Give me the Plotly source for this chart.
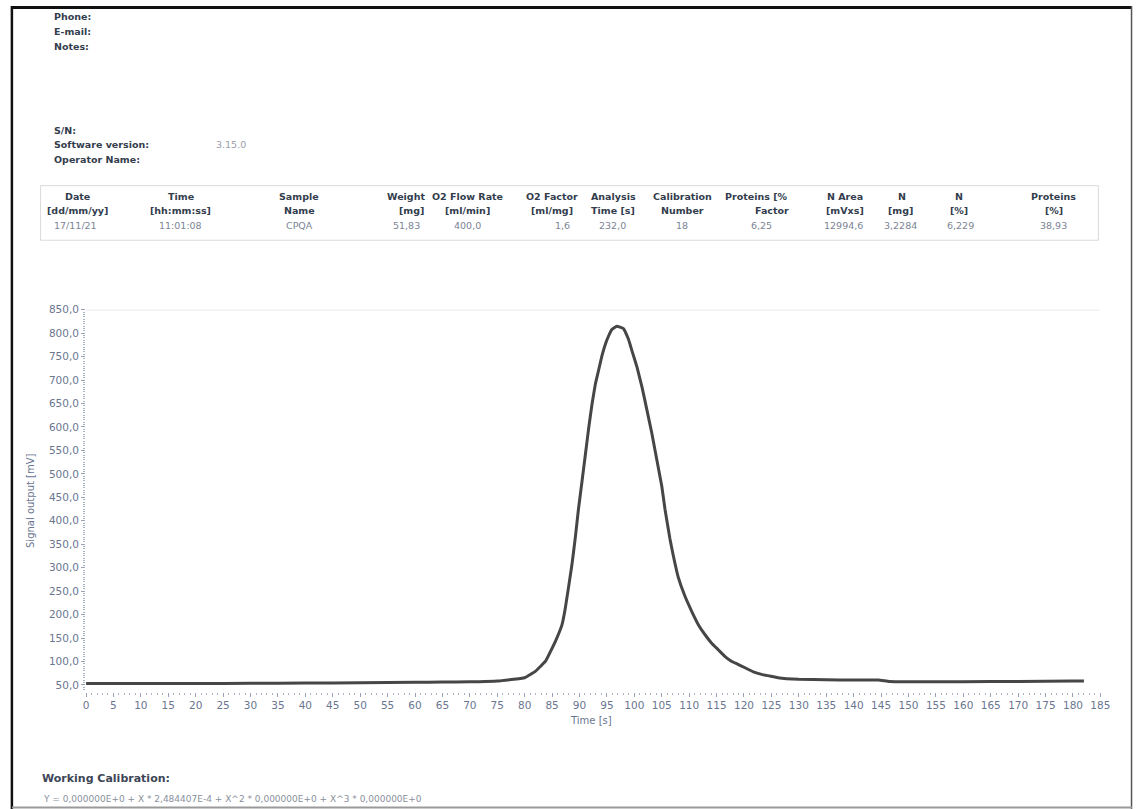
import plotly.graph_objects as go

# ---------------- data ----------------
time_s = [0, 10, 20, 30, 40, 50, 60, 65, 70, 71.7, 75, 80, 82, 83.8, 85.6, 86.8, 87.4,
          88.6, 89.2, 89.8, 90.5, 91.1, 91.7, 92.3, 92.9, 93.5, 94.1, 94.7, 95.3, 95.9,
          96.8, 98.0, 98.9, 99.5, 100.5, 101.4, 102.3, 103.2, 104.1, 105.0, 105.6,
          106.5, 107.1, 108.0, 109.2, 110.5, 111.7, 112.9, 114.1, 115.3, 116.5, 117.7,
          118.9, 120.2, 121.7, 123.2, 124.7, 126.2, 130, 135, 140, 144.5, 146.5, 150,
          160, 170, 180, 182]
signal_mv = [53, 53, 53, 53.5, 54, 54.5, 55.5, 56, 57, 57, 58.4, 65.4, 79.5, 100.6, 143,
             178, 213, 305, 361, 424, 488, 544, 600, 650, 692, 722, 752, 776, 794, 808,
             815, 810, 788, 765, 727, 685, 636, 586, 530, 474, 424,
             361, 326, 280, 240, 206, 178, 157, 139, 125, 111, 100.6,
             94, 86.6, 78, 72.5, 69, 65.4, 62, 61, 60.5, 60.5, 57.5, 57,
             57, 57.5, 58.5, 58.5]

x_ticks = list(range(0, 186, 5))
y_ticks = list(range(50, 851, 50))

info_labels_top = ["Phone:", "E-mail:", "Notes:"]
info_labels_bottom = ["S/N:", "Software version:", "Operator Name:"]
software_version = "3.15.0"

table_head1 = ["Date", "Time", "Sample", "Weight", "O2 Flow Rate", "O2 Factor", "Analysis",
               "Calibration", "Proteins [%", "N Area", "N", "N", "Proteins"]
table_head2 = ["[dd/mm/yy]", "[hh:mm:ss]", "Name", "[mg]", "[ml/min]", "[ml/mg]", "Time [s]",
               "Number", "Factor", "[mVxs]", "[mg]", "[%]", "[%]"]
table_values = ["17/11/21", "11:01:08", "CPQA", "51,83", "400,0", "1,6", "232,0", "18",
                "6,25", "12994,6", "3,2284", "6,229", "38,93"]

calib_title = "Working Calibration:"
calib_formula = "Y = 0,000000E+0 + X * 2,484407E-4 + X^2 * 0,000000E+0 + X^3 * 0,000000E+0"

# ---------------- layout helpers ----------------
W, H = 1144, 809
def px(x):
    return x / W
def py(y):
    return 1 - y / H

FONT = "DejaVu Sans"
HEAD_COL = "#333d4d"
VAL_COL = "#7c8494"
AX_COL = "#6a7690"

# column centres (px) for header line 1, header line 2, values
col_h1 = [75, 180, 299, 408, 470, 555, 618, 687, 762, 852, 909, 967, 1063]
col_h2 = [75, 180, 300, 413, 470, 555, 617, 687, 778, 852, 908, 967, 1063]
col_v = [73, 180, 300, 408, 470, 566, 617, 687, 767, 850, 908, 968, 1063]

fig = go.Figure()
fig.add_trace(go.Scatter(
    x=time_s, y=signal_mv, mode="lines",
    line=dict(color="#464646", width=3, shape="spline", smoothing=0.3),
    hoverinfo="skip", showlegend=False))

ann = []
for i, t in enumerate(info_labels_top):
    ann.append(dict(x=px(50), y=py(11 + 15 * i), text=t))
for i, t in enumerate(info_labels_bottom):
    ann.append(dict(x=px(50), y=py(125 + 15 * i), text=t))
for a in ann:
    a.update(xref="paper", yref="paper", xanchor="left", yanchor="middle", showarrow=False,
             font=dict(family=FONT, size=9.5, color=HEAD_COL))
    a["text"] = "<b>" + a["text"] + "</b>"
ann.append(dict(x=px(213), y=py(140), text=software_version, xref="paper", yref="paper",
                xanchor="left", yanchor="middle", showarrow=False,
                font=dict(family=FONT, size=9.5, color="#9aa0aa")))

for i in range(len(table_head1)):
    ann.append(dict(x=px(col_h1[i]), y=py(192), text="<b>" + table_head1[i] + "</b>",
                    xref="paper", yref="paper", xanchor="center", yanchor="middle",
                    showarrow=False, font=dict(family=FONT, size=9.5, color=HEAD_COL)))
    ann.append(dict(x=px(col_h2[i]), y=py(206), text="<b>" + table_head2[i] + "</b>",
                    xref="paper", yref="paper", xanchor="center", yanchor="middle",
                    showarrow=False, font=dict(family=FONT, size=9.5, color=HEAD_COL)))
    ann.append(dict(x=px(col_v[i]), y=py(221), text=table_values[i],
                    xref="paper", yref="paper", xanchor="center", yanchor="middle",
                    showarrow=False, font=dict(family=FONT, size=9.5, color=VAL_COL)))

ann.append(dict(x=px(28), y=py(498), text="Signal output [mV]", textangle=-90,
                xref="paper", yref="paper", xanchor="center", yanchor="middle",
                showarrow=False, font=dict(family=FONT, size=10, color=AX_COL)))
ann.append(dict(x=px(595), y=py(720), text="Time [s]",
                xref="paper", yref="paper", xanchor="center", yanchor="middle",
                showarrow=False, font=dict(family=FONT, size=10, color=AX_COL)))

ann.append(dict(x=px(37), y=py(778), text="<b>" + calib_title + "</b>",
                xref="paper", yref="paper", xanchor="left", yanchor="middle",
                showarrow=False, font=dict(family=FONT, size=11, color="#3e4656")))
ann.append(dict(x=px(38), y=py(799), text=calib_formula,
                xref="paper", yref="paper", xanchor="left", yanchor="middle",
                showarrow=False, font=dict(family=FONT, size=9, color="#8a909c")))

shapes = [
    dict(type="line", xref="paper", yref="paper", x0=px(9), x1=px(9), y0=0, y1=1,
         line=dict(color="#111111", width=2.5)),
    dict(type="line", xref="paper", yref="paper", x0=px(9), x1=px(1142), y0=py(1.5), y1=py(1.5),
         line=dict(color="#111111", width=3)),
    dict(type="line", xref="paper", yref="paper", x0=px(1141.5), x1=px(1141.5), y0=0, y1=1,
         line=dict(color="#555555", width=1.5)),
    dict(type="line", xref="paper", yref="paper", x0=px(9), x1=px(1142), y0=py(807.5), y1=py(807.5),
         line=dict(color="#9a9a9a", width=2)),
    dict(type="rect", xref="paper", yref="paper", x0=px(38), x1=px(1108), y0=py(181), y1=py(236),
         line=dict(color="#dadada", width=1)),
    dict(type="line", xref="x", yref="y", x0=0, x1=185, y0=850, y1=850,
         line=dict(color="#e4e4e4", width=1.5)),
]

y_min = 35.2
fig.update_layout(
    width=W, height=H, margin=dict(l=0, r=0, t=0, b=0),
    paper_bgcolor="white", plot_bgcolor="white",
    separators=",.",
    showlegend=False,
    annotations=ann, shapes=shapes,
    xaxis=dict(domain=[px(84), px(1110)], range=[0, 185], tickvals=x_ticks,
               showgrid=False, zeroline=False, showline=False,
               ticks="outside", ticklen=4, tickwidth=1, tickcolor="#9aa3b5",
               tickfont=dict(family=FONT, size=10.5, color=AX_COL),
               minor=dict(dtick=1, ticks="outside", ticklen=2, tickwidth=1, tickcolor="#aab2c2")),
    yaxis=dict(domain=[py(691), py(306)], range=[y_min, 850], tickvals=y_ticks,
               tickformat=".1f",
               showgrid=False, zeroline=False, showline=False,
               ticks="outside", ticklen=4, tickwidth=1, tickcolor="#9aa3b5",
               tickfont=dict(family=FONT, size=10.5, color=AX_COL),
               minor=dict(tick0=50, dtick=5, ticks="outside", ticklen=2, tickwidth=1,
                          tickcolor="#aab2c2")),
)

fig.write_html("out.html")
